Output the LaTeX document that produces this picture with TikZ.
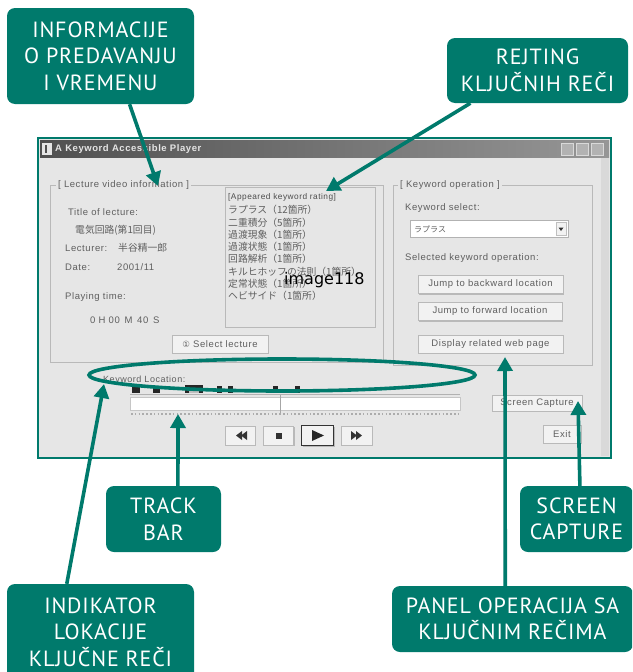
\documentclass[tikz,border=0pt]{standalone}
\usepackage{fontspec}
\setmainfont{PT Sans}
\newfontfamily\callfont[LetterSpace=4]{PT Sans}
\newfontfamily\ui[LetterSpace=6]{Liberation Sans}
\newfontfamily\jp{Noto Sans CJK JP}
\newfontfamily\dv{DejaVu Sans}
\usetikzlibrary{arrows.meta,calc,shadows}
\definecolor{callgreen}{RGB}{0,122,108}
\definecolor{winbg}{RGB}{230,230,230}
\definecolor{uigray}{RGB}{95,95,95}
\definecolor{framegray}{RGB}{185,185,185}
\definecolor{btnface}{RGB}{242,242,242}
\definecolor{tbl}{RGB}{80,80,80}
\definecolor{tbr}{RGB}{150,150,150}
\begin{document}
\begin{tikzpicture}[x=1pt,y=-1pt,
  callout/.style={fill=callgreen, rounded corners=8pt, text=white, font=\callfont\fontsize{22}{26.5}\selectfont, align=center, inner sep=0pt},
  conn/.style={draw=callgreen, line width=3.6pt, -{Triangle[length=14pt,width=15pt]}},
  uitext/.style={font=\ui\fontsize{9.5}{11}\selectfont, text=uigray, anchor=west, inner sep=0pt},
  jptext/.style={font=\jp\fontsize{9.8}{11}\selectfont, text=uigray, anchor=west, inner sep=0pt},
  btn/.style={draw=gray!55, fill=btnface, inner sep=0pt, font=\ui\fontsize{9.5}{11}\selectfont, text=uigray,
    general shadow={shadow xshift=1.2pt, shadow yshift=-1.2pt, fill=gray!55}},
  grp/.style={draw=framegray, line width=0.8pt},
  grplabel/.style={uitext, fill=winbg, inner xsep=2pt},
  kwmark/.style={fill=black!85}
]
\useasboundingbox (0,0) rectangle (632,672);
\clip (0,0) rectangle (632,672);

% ---------------- window ----------------
\draw[callgreen, line width=2pt, fill=winbg] (38,138) rectangle (611,458);
\shade[left color=tbl, right color=tbr] (40,140) rectangle (609,157);
\fill[gray!20] (42,143) rectangle (52,155);
\fill[tbl] (45,145) rectangle (47,153);
\node[anchor=west, inner sep=0pt, text=white!80!gray, font=\ui\bfseries\fontsize{9.5}{11}\selectfont] (title) at (55,149) {A Keyword Accessible Player};
\foreach \x in {561,576,591}{
  \draw[gray!30, fill=gray!60] (\x,143) rectangle ++(12,12);
}
\fill[gray!30] (601,158) rectangle (609,456);

% left group
\draw[grp] (50,185) rectangle (383,362);
\node[grplabel] (lvi) at (56,185) {[ Lecture video information ]};
\node[uitext] (tol) at (68,212) {Title of lecture:};
\node[jptext] (toltxt) at (75,230) {電気回路(第1回目)};
\node[uitext] (lect) at (65,248) {Lecturer:};
\node[jptext] (lectname) at (118,248) {半谷精一郎};
\node[uitext] (date) at (65,267) {Date:};
\node[uitext] (datev) at (117,267) {2001/11};
\node[uitext] (play) at (65,297) {Playing time:};
\node[uitext] (playv) at (90,320) {0\,\,H\,\,00\,\,\,M\,\,\,40\,\,\,S};
\node[btn, minimum width=96pt, minimum height=18pt] (sel) at (220,344) {{\dv\fontsize{8.5}{9}\selectfont ①} Select lecture};

% keyword list
\draw[framegray, line width=0.8pt] (225,187) rectangle (375,327);
\node[uitext, font=\ui\fontsize{8.3}{9}\selectfont, text=black!70] (kwhead) at (228,197) {[Appeared keyword rating]};
\node[jptext] (k1) at (228,210) {ラプラス（12箇所）};
\node[jptext] (k2) at (228,222.3) {二重積分（5箇所）};
\node[jptext] (k3) at (228,234.6) {過渡現象（1箇所）};
\node[jptext] (k4) at (228,246.9) {過渡状態（1箇所）};
\node[jptext] (k5) at (228,259.2) {回路解析（1箇所）};
\node[jptext] (k6) at (228,271.5) {キルヒホッフの法則（1箇所）};
\node[jptext] (k7) at (228,283.8) {定常状態（1箇所）};
\node[jptext] (k8) at (228,296.1) {ヘビサイド（1箇所）};
\node[anchor=west, inner sep=0pt, font=\dv\fontsize{16}{18}\selectfont, text=black] (img) at (284,280) {image118};

% right group
\draw[grp] (393,185) rectangle (592,365);
\node[grplabel] (kop) at (398,185) {[ Keyword operation ]};
\node[uitext] (ksel) at (405,208) {Keyword select:};
\node[draw=gray!60, fill=white, minimum width=158pt, minimum height=17pt, inner sep=0pt] (combo) at (489,229) {};
\node[jptext, font=\jp\fontsize{8}{9}\selectfont] (combotxt) at (414,229) {ラプラス};
\node[draw=gray!50, fill=btnface, minimum width=10pt, minimum height=13pt, inner sep=0pt] (drop) at (561,229) {};
\fill[black!80] (558.5,227.5) -- (563.5,227.5) -- (561,231) -- cycle;
\node[uitext] (selop) at (405,258) {Selected keyword operation:};
\node[btn, minimum width=145pt, minimum height=18pt] (jb) at (490.5,284.5) {Jump to backward location};
\node[btn, minimum width=144pt, minimum height=18pt] (jf) at (490,311.5) {Jump to forward location};
\node[btn, minimum width=145pt, minimum height=18pt] (dw) at (490.5,344) {Display related web page};

% keyword location & track bar
\node[uitext, font=\ui\fontsize{9}{10}\selectfont] (kloc) at (103,380) {Keyword Location:};
\fill[kwmark] (132,385) rectangle (140,393);
\fill[kwmark] (153,386) rectangle (160,393);
\fill[kwmark] (185,385) rectangle (203,393);
\fill[gray!50] (189,388) rectangle (199,393);
\fill[kwmark] (217,386) rectangle (222,393);
\fill[kwmark] (228,386) rectangle (233,393);
\fill[kwmark] (273,386) rectangle (278,393);
\fill[kwmark] (295,386) rectangle (300,393);
\draw[gray!60] (130,394) -- (460,394);
\draw[gray!45, fill=white] (130,397) rectangle (460,410);
\draw[gray!70, line width=0.8pt] (280,395) -- (280,413);
\draw[gray!65, line width=1.6pt, dash pattern=on 1.6pt off 2.2pt] (131,414) -- (459,414);

% media buttons
\node[btn, minimum width=30pt, minimum height=19pt] (rew) at (240,435.5) {};
\fill[black!80] (236,435.5) -- (242,431) -- (242,440) -- cycle;
\fill[black!80] (241,435.5) -- (247,431) -- (247,440) -- cycle;
\node[btn, minimum width=30pt, minimum height=19pt] (stop) at (278.5,435.5) {};
\fill[black!80] (275.5,432.5) rectangle (281.5,438.5);
\node[btn, minimum width=32pt, minimum height=20pt, draw=black!80, line width=1.3pt] (playb) at (317.5,435.5) {};
\fill[black!85] (312,430) -- (324,435.5) -- (312,441) -- cycle;
\node[btn, minimum width=31pt, minimum height=19pt] (ffw) at (356.5,435.5) {};
\fill[black!80] (351,431) -- (357,435.5) -- (351,440) -- cycle;
\fill[black!80] (356,431) -- (362,435.5) -- (356,440) -- cycle;

\node[btn, minimum width=90pt, minimum height=16pt] (scap) at (537,403) {Screen Capture};
\node[btn, minimum width=38pt, minimum height=18pt] (exit) at (562,434) {Exit};

% ---------------- callouts ----------------
\node[callout, minimum width=187pt, minimum height=96pt] (info) at (100.5,56) {INFORMACIJE\\O PREDAVANJU\\I VREMENU};
\node[callout, minimum width=181pt, minimum height=65pt] (rejt) at (537.5,70.5) {REJTING\\KLJUČNIH REČI};
\node[callout, minimum width=115pt, minimum height=66pt] (track) at (163.5,519) {TRACK\\BAR};
\node[callout, minimum width=113pt, minimum height=66pt] (screen) at (576.5,519) {SCREEN\\CAPTURE};
\node[callout, minimum width=187pt, minimum height=96pt] (ind) at (100.5,632) {INDIKATOR\\LOKACIJE\\KLJUČNE REČI};
\node[callout, minimum width=241pt, minimum height=66pt] (panel) at (512.5,619) {PANEL OPERACIJA SA\\KLJUČNIM REČIMA};

% highlight ellipse
\draw[callgreen, line width=3.6pt] (282,375) ellipse [x radius=193, y radius=16];

% connectors
\coordinate (infoT) at (158,186);
\coordinate (rejtT) at (326,191);
\coordinate (trackT) at (178,414);
\coordinate (indT) at (104,384);
\coordinate (panelT) at (505,357);
\coordinate (screenT) at (578,401);
\draw[conn] ($(info.south)!0.31!(info.south east)$) -- (infoT);
\draw[conn] ($(rejt.south west)!0.13!(rejt.south east)$) -- (rejtT);
\draw[conn] ($(track.north)!0.25!(track.north east)$) -- (trackT);
\draw[conn] ($(ind.north west)!0.32!(ind.north east)$) -- (indT);
\draw[conn] ($(panel.north west)!0.47!(panel.north east)$) -- (panelT);
\draw[conn] ($(screen.north west)!0.53!(screen.north east)$) -- (screenT);
\end{tikzpicture}
\end{document}
